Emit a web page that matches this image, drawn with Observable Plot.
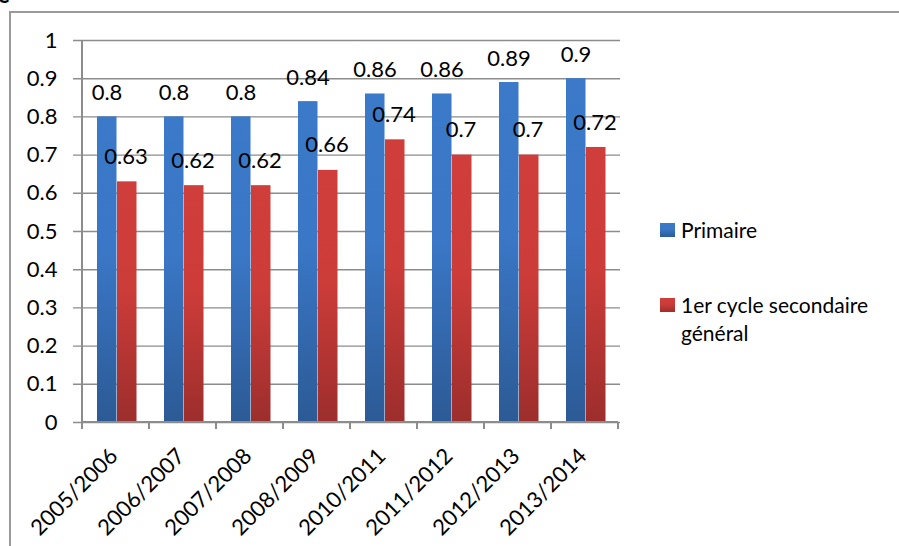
<!DOCTYPE html>
<html>
<head>
<meta charset="utf-8">
<script src="https://cdn.jsdelivr.net/npm/d3@7"></script>
<script src="https://cdn.jsdelivr.net/npm/@observablehq/plot@0.6"></script>
<style>
  html, body { margin: 0; padding: 0; background: #fff; }
  #wrap { position: relative; width: 899px; height: 546px; overflow: hidden; font-family: Lato, sans-serif; color: #000; }
  #frame { position: absolute; left: 9px; top: 11px; width: 900px; height: 600px; border-left: 2px solid #9a9a9a; border-top: 2px solid #9a9a9a; }
  #cut { position: absolute; left: -2px; top: -19px; font: bold 22px Lato, sans-serif; }
  #chart { position: absolute; left: 0; top: 0; }
  .leg { position: absolute; font-size: 21px; line-height: 28px; }
  .sw { position: absolute; width: 15px; height: 14px; }
</style>
</head>
<body>
<div id="wrap">
  <div id="cut">e</div>
  <div id="frame"></div>
  <div id="chart"></div>
  <div id="legend"></div>
</div>
<script>
const years = ["2005/2006","2006/2007","2007/2008","2008/2009","2010/2011","2011/2012","2012/2013","2013/2014"];
const primaire = [0.8,0.8,0.8,0.84,0.86,0.86,0.89,0.9];
const secondaire = [0.63,0.62,0.62,0.66,0.74,0.7,0.7,0.72];
const seriesNames = ["Primaire","1er cycle secondaire général"];
const yTicks = [0,0.1,0.2,0.3,0.4,0.5,0.6,0.7,0.8,0.9,1];
const colors = {
  Primaire: ["#3b79c9", "#3a77c6", "#2c5a95"],
  Secondaire: ["#d03e3b", "#cc3c39", "#9c2e2c"]
};

const rowsP = years.map((y, i) => ({year: y, value: primaire[i]}));
const rowsS = years.map((y, i) => ({year: y, value: secondaire[i]}));

const defs = () => {
  const g = d3.create("svg:defs");
  for (const [id, c] of [["gBlue", colors.Primaire], ["gRed", colors.Secondaire]]) {
    const lg = g.append("linearGradient").attr("id", id).attr("x1", 0).attr("y1", 0).attr("x2", 0).attr("y2", 1);
    lg.append("stop").attr("offset", "0%").attr("stop-color", c[0]);
    lg.append("stop").attr("offset", "45%").attr("stop-color", c[1]);
    lg.append("stop").attr("offset", "100%").attr("stop-color", c[2]);
  }
  return g.node();
};

const axes = (index, scales) => {
  const x = scales.x, y = scales.y;
  const bw = typeof x.bandwidth === "function" ? x.bandwidth() : x.bandwidth;
  const g = d3.create("svg:g").attr("stroke", "#8c8c8c").attr("stroke-width", 2);
  const y0 = y(0), y1 = y(1);
  const xs = years.map(d => x(d)).concat([x(years[years.length - 1]) + bw]);
  g.append("line").attr("x1", xs[0]).attr("x2", xs[0]).attr("y1", y1).attr("y2", y0);
  g.append("line").attr("x1", xs[0]).attr("x2", xs[xs.length - 1]).attr("y1", y0).attr("y2", y0);
  for (const v of xs) g.append("line").attr("x1", v).attr("x2", v).attr("y1", y0).attr("y2", y0 + 7);
  return g.node();
};

const fmt = d => String(+d.toFixed(1));

const chart = Plot.plot({
  width: 899,
  height: 546,
  marginLeft: 80,
  marginRight: 279,
  marginTop: 40,
  marginBottom: 124,
  style: {fontFamily: "Lato, sans-serif", fontSize: "22px", background: "transparent", color: "#000", overflow: "visible"},
  x: {domain: years, padding: 0, axis: null},
  y: {domain: [0, 1], axis: null},
  marks: [
    defs,
    Plot.ruleY(yTicks, {y: d => d, stroke: "#8c8c8c", strokeWidth: 1.4, insetLeft: -7}),
    Plot.text(yTicks, {y: d => d, text: fmt, frameAnchor: "left", textAnchor: "end", dx: -23, fill: "#000"}),
    Plot.barY(rowsP, {x: "year", y: "value", fill: "url(#gBlue)", insetLeft: 15, insetRight: 32.5}),
    Plot.barY(rowsS, {x: "year", y: "value", fill: "url(#gRed)", insetLeft: 35, insetRight: 12.5}),
    axes,
    Plot.text(rowsP, {x: "year", y: "value", text: d => String(d.value), dx: -9, dy: -24, fill: "#000"}),
    Plot.text(rowsS, {x: "year", y: "value", text: d => String(d.value), dx: 10, dy: -25, fill: "#000"}),
    Plot.text(years, {x: d => d, text: d => d, frameAnchor: "bottom", rotate: -45, textAnchor: "end", lineAnchor: "bottom", dx: 3, dy: 35, fill: "#000"})
  ]
});
document.getElementById("chart").appendChild(chart);

const legend = document.getElementById("legend");
const items = [
  {name: seriesNames[0], c: colors.Primaire, sy: 223, ty: 216},
  {name: seriesNames[1], c: colors.Secondaire, sy: 298, ty: 291}
];
for (const it of items) {
  const sw = document.createElement("div");
  sw.className = "sw";
  sw.style.left = "660px";
  sw.style.top = it.sy + "px";
  sw.style.background = `linear-gradient(${it.c[0]}, ${it.c[1]} 45%, ${it.c[2]})`;
  legend.appendChild(sw);
  const t = document.createElement("div");
  t.className = "leg";
  t.style.left = "681px";
  t.style.top = it.ty + "px";
  t.style.width = "215px";
  t.textContent = it.name;
  legend.appendChild(t);
}
</script>
</body>
</html>
